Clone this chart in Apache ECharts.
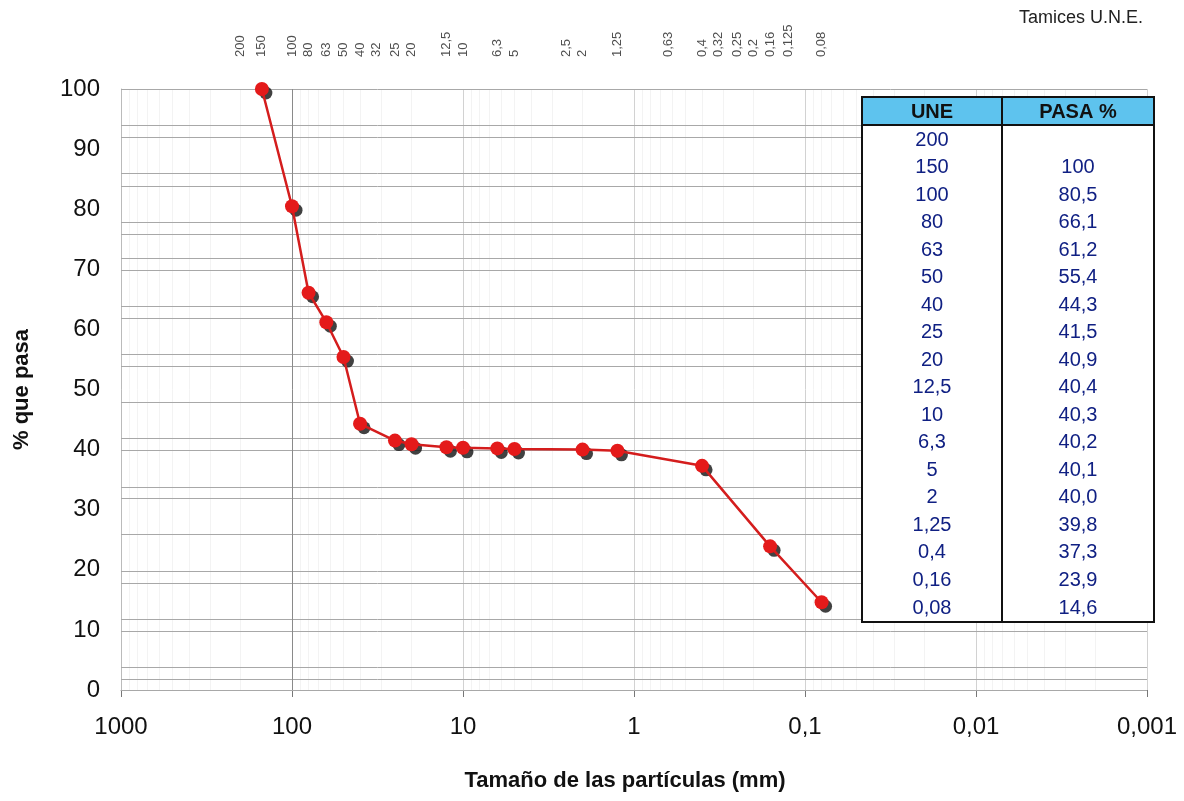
<!DOCTYPE html>
<html>
<head>
<meta charset="utf-8">
<script src="https://cdn.jsdelivr.net/npm/echarts@6/dist/echarts.min.js"></script>
<style>
html,body{margin:0;padding:0;background:#fff;}
#chart{width:1184px;height:801px;}
</style>
</head>
<body>
<div id="chart"></div>
<script>
// ---- data ----
const tableSieves = [200, 150, 100, 80, 63, 50, 40, 25, 20, 12.5, 10, 6.3, 5, 2, 1.25, 0.4, 0.16, 0.08];
const tablePasa   = [null, 100, 80.5, 66.1, 61.2, 55.4, 44.3, 41.5, 40.9, 40.4, 40.3, 40.2, 40.1, 40.0, 39.8, 37.3, 23.9, 14.6];
const topSieveLabels = [200, 150, 100, 80, 63, 50, 40, 32, 25, 20, 12.5, 10, 6.3, 5, 2.5, 2, 1.25, 0.63, 0.4, 0.32, 0.25, 0.2, 0.16, 0.125, 0.08];
const gridY = [0, 1.8, 3.8, 9.8, 11.8, 17.8, 19.8, 25.9, 31.9, 33.8, 39.9, 41.9, 47.9, 53.8, 55.8, 61.8, 63.8, 69.9, 71.9, 75.9, 77.9, 83.9, 85.9, 91.9, 94.0, 100];
const tableHeaders = ['UNE', 'PASA %'];
const chartTitle = 'Tamices U.N.E.';
const xName = 'Tamaño de las partículas (mm)';
const yName = '% que pasa';

const fmtComma = v => String(Number(v.toPrecision(6))).replace('.', ',');
const fmtPasa = v => v == null ? '' : (v >= 100 ? String(v) : v.toFixed(1).replace('.', ','));

const curve = tableSieves.map((s, i) => [s, tablePasa[i]]).filter(p => p[1] != null);

const FONT = '"Liberation Sans", Arial, sans-serif';

// ---- table graphic ----
const T = { x: 862, y: 97, w: 292, hh: 28, bottom: 622, div: 1002, c1: 932, c2: 1078, row0: 140, rowH: 27.53 };
const graphics = [
  { type: 'rect', shape: { x: T.x, y: T.y + T.hh, width: T.w, height: T.bottom - T.y - T.hh }, style: { fill: '#fff', stroke: '#111', lineWidth: 2 }, z: 100 },
  { type: 'rect', shape: { x: T.x, y: T.y, width: T.w, height: T.hh }, style: { fill: '#5ec3ee', stroke: '#111', lineWidth: 2 }, z: 101 },
  { type: 'line', shape: { x1: T.div, y1: T.y, x2: T.div, y2: T.bottom }, style: { stroke: '#111', lineWidth: 2 }, z: 102 },
  { type: 'text', x: T.c1, y: T.y + T.hh / 2 + 1, style: { text: tableHeaders[0], font: 'bold 20px ' + FONT, fill: '#111', align: 'center', verticalAlign: 'middle' }, z: 103 },
  { type: 'text', x: T.c2, y: T.y + T.hh / 2 + 1, style: { text: tableHeaders[1], font: 'bold 20px ' + FONT, fill: '#111', align: 'center', verticalAlign: 'middle' }, z: 103 },
  { type: 'text', right: 41, top: 9, style: { text: chartTitle, font: '18px ' + FONT, fill: '#222' }, z: 103 }
];
tableSieves.forEach((s, i) => {
  const y = T.row0 + i * T.rowH;
  graphics.push({ type: 'text', x: T.c1, y: y, style: { text: fmtComma(s), font: '20px ' + FONT, fill: '#102083', align: 'center', verticalAlign: 'middle' }, z: 103 });
  graphics.push({ type: 'text', x: T.c2, y: y, style: { text: fmtPasa(tablePasa[i]), font: '20px ' + FONT, fill: '#102083', align: 'center', verticalAlign: 'middle' }, z: 103 });
});

const chart = echarts.init(document.getElementById('chart'));
chart.setOption({
  animation: false,
  backgroundColor: '#fff',
  textStyle: { fontFamily: FONT },
  grid: [
    { left: 121, right: 37, top: 89, bottom: 111 },
    { left: 121, right: 37, top: 10, height: 47 }
  ],
  xAxis: [
    {
      type: 'log', logBase: 10, min: 0.001, max: 1000, inverse: true, gridIndex: 0,
      name: xName, nameLocation: 'middle', nameGap: 80,
      nameTextStyle: { fontSize: 22, fontWeight: 'bold', color: '#111', fontFamily: FONT, padding: [0, 18, 0, 0] },
      axisLine: { show: true, lineStyle: { color: '#999', width: 1 } },
      axisTick: { show: true, length: 7, lineStyle: { color: '#777' } },
      axisLabel: { fontSize: 24, color: '#111', margin: 25, fontFamily: FONT, formatter: v => fmtComma(v) },
      splitLine: { show: true, lineStyle: { color: '#d2d2d2', width: 1 } },
      minorTick: { show: false, splitNumber: 9 },
      minorSplitLine: { show: true, lineStyle: { color: '#f3f3f3', width: 1 } }
    },
    {
      type: 'log', logBase: 10, min: 0.001, max: 1000, inverse: true, gridIndex: 1, show: false
    }
  ],
  yAxis: [
    {
      type: 'value', min: 0, max: 100, interval: 10, gridIndex: 0,
      name: yName, nameLocation: 'middle', nameGap: 88, nameRotate: 90,
      nameTextStyle: { fontSize: 22, fontWeight: 'bold', color: '#111', fontFamily: FONT },
      axisLine: { show: true, lineStyle: { color: '#bbb' } },
      axisTick: { show: false },
      axisLabel: { fontSize: 24, color: '#111', margin: 21, fontFamily: FONT },
      splitLine: { show: false }
    },
    { type: 'value', min: 0, max: 1, gridIndex: 1, show: false }
  ],
  series: [
    {
      name: 'grid-lines', type: 'line', data: [], xAxisIndex: 0, yAxisIndex: 0,
      markLine: {
        silent: true, symbol: 'none', z: 1, animation: false,
        label: { show: false },
        lineStyle: { type: 'solid', color: '#a8a8a8', width: 1 },
        data: gridY.map(v => ({ yAxis: v })).concat([{ xAxis: 100, lineStyle: { color: '#8a8a8a', width: 1 } }])
      }
    },
    {
      name: 'shadow', type: 'scatter', data: curve, xAxisIndex: 0, yAxisIndex: 0,
      symbol: 'circle', symbolSize: 13, symbolOffset: [4, 4], z: 3,
      itemStyle: { color: '#111' }, silent: true
    },
    {
      name: 'Pasa', type: 'line', data: curve, xAxisIndex: 0, yAxisIndex: 0,
      symbol: 'circle', symbolSize: 14, showAllSymbol: true, z: 4,
      lineStyle: { color: '#d41d1d', width: 2.5 },
      itemStyle: { color: '#e41a1a', borderWidth: 0 }
    },
    {
      name: 'sieve-labels', type: 'scatter', xAxisIndex: 1, yAxisIndex: 1,
      data: topSieveLabels.map(v => [v, 0]),
      symbolSize: 0, silent: true,
      label: {
        show: true, position: 'inside', rotate: 90, align: 'left', verticalAlign: 'middle',
        fontSize: 13, color: '#222', fontFamily: FONT,
        formatter: p => fmtComma(p.value[0])
      }
    }
  ],
  graphic: graphics
});
</script>
</body>
</html>
